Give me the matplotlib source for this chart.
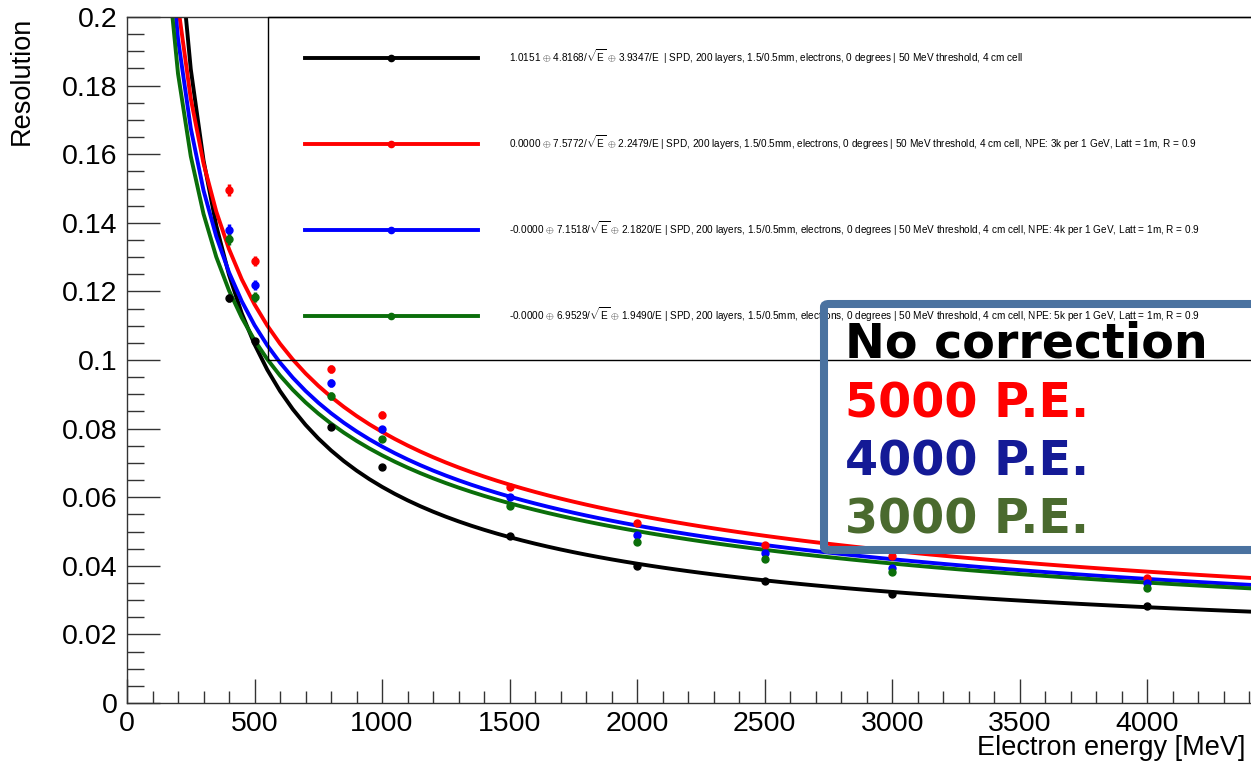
import numpy as np
import matplotlib
matplotlib.use("Agg")
import matplotlib.pyplot as plt
from matplotlib.lines import Line2D
from matplotlib.patches import FancyBboxPatch, Rectangle

# ---------------- data ----------------
energies = [400, 500, 800, 1000, 1500, 2000, 2500, 3000, 4000]  # MeV

res_nocorr = [0.1181, 0.1055, 0.0805, 0.0688, 0.0487, 0.0399, 0.0355, 0.0318, 0.0284]
res_red    = [0.1496, 0.1289, 0.0974, 0.0840, 0.0630, 0.0525, 0.0462, 0.0428, 0.0364]
res_blue   = [0.1379, 0.1219, 0.0933, 0.0799, 0.0600, 0.0490, 0.0436, 0.0395, 0.0350]
res_green  = [0.1353, 0.1184, 0.0895, 0.0770, 0.0575, 0.0468, 0.0420, 0.0382, 0.0336]

err_nocorr = [0.0012, 0.0010, 0.0008, 0.0007, 0.0005, 0.0004, 0.0004, 0.0004, 0.0003]
err_red    = [0.0018, 0.0015, 0.0012, 0.0010, 0.0008, 0.0007, 0.0006, 0.0006, 0.0005]
err_blue   = [0.0017, 0.0014, 0.0011, 0.0009, 0.0008, 0.0007, 0.0006, 0.0006, 0.0005]
err_green  = [0.0017, 0.0014, 0.0011, 0.0009, 0.0008, 0.0007, 0.0006, 0.0006, 0.0005]

# fit parameters (percent, E in GeV): a (+) b/sqrt(E) (+) c/E
fit_const = [1.0151, 0.0000, -0.0000, -0.0000]
fit_stoch = [4.8168, 7.5772, 7.1518, 6.9529]
fit_noise = [3.9347, 2.2479, 2.1820, 1.9490]

legend_labels = [
    r"1.0151 $\oplus$ 4.8168/$\sqrt{E}$ $\oplus$ 3.9347/E  | SPD, 200 layers, 1.5/0.5mm, electrons, 0 degrees | 50 MeV threshold, 4 cm cell",
    r"0.0000 $\oplus$ 7.5772/$\sqrt{E}$ $\oplus$ 2.2479/E | SPD, 200 layers, 1.5/0.5mm, electrons, 0 degrees | 50 MeV threshold, 4 cm cell, NPE: 3k per 1 GeV, Latt = 1m, R = 0.9",
    r"-0.0000 $\oplus$ 7.1518/$\sqrt{E}$ $\oplus$ 2.1820/E | SPD, 200 layers, 1.5/0.5mm, electrons, 0 degrees | 50 MeV threshold, 4 cm cell, NPE: 4k per 1 GeV, Latt = 1m, R = 0.9",
    r"-0.0000 $\oplus$ 6.9529/$\sqrt{E}$ $\oplus$ 1.9490/E | SPD, 200 layers, 1.5/0.5mm, electrons, 0 degrees | 50 MeV threshold, 4 cm cell, NPE: 5k per 1 GeV, Latt = 1m, R = 0.9",
]
overlay_labels = ["No correction", "5000 P.E.", "4000 P.E.", "3000 P.E."]

# ---------------- style ----------------
plt.rcParams['font.family'] = ['Liberation Sans', 'DejaVu Sans']
plt.rcParams['mathtext.fontset'] = 'custom'
plt.rcParams['mathtext.rm'] = 'Liberation Sans'
plt.rcParams['mathtext.it'] = 'Liberation Sans'

colors = ['#000000', '#ff0000', '#0000ff', '#0a6e0a']
overlay_colors = ['#000000', '#ff0000', '#141a96', '#4a6a2e']

W, H = 1251, 767
fig = plt.figure(figsize=(W / 100, H / 100), dpi=100)

x0_px, x_end_px = 127, 1262
y_top_px, y_bot_px = 17, 703
ax = fig.add_axes([x0_px / W, (H - y_bot_px) / H, (x_end_px - x0_px) / W, (y_bot_px - y_top_px) / H])
ax.set_xlim(0, 4450)
ax.set_ylim(0, 0.2)


def px2ax(px, py):
    return ax.transAxes.inverted().transform(fig.transFigure.transform((px / W, 1 - py / H)))


series = [res_nocorr, res_red, res_blue, res_green]
errors = [err_nocorr, err_red, err_blue, err_green]

E_fit = np.arange(100, 5001, 50) / 1000.0  # GeV
for a, b, c, col in zip(fit_const, fit_stoch, fit_noise, colors):
    curve = np.sqrt(a ** 2 + b ** 2 / E_fit + c ** 2 / E_fit ** 2) / 100.0
    ax.plot(E_fit * 1000, curve, color=col, lw=2.8, zorder=2, solid_joinstyle='round')

for s, e, col in zip(series, errors, colors):
    ax.errorbar(energies, s, yerr=e, fmt='o', color=col, ms=5, elinewidth=2.5,
                capsize=0, zorder=3)

# axes styling (ROOT-like)
for sp in ['left', 'bottom', 'top']:
    ax.spines[sp].set_color('#333333')
    ax.spines[sp].set_linewidth(1.0)
ax.spines['right'].set_visible(False)

ax.set_xticks(np.arange(0, 4451, 500))
ax.set_xticks(np.arange(0, 4451, 100), minor=True)
ax.set_yticks(np.arange(0, 0.2001, 0.02))
ax.set_yticks(np.arange(0, 0.2001, 0.005), minor=True)
ax.yaxis.set_major_formatter(matplotlib.ticker.FuncFormatter(
    lambda v, p: f"{v:.2f}".rstrip('0').rstrip('.') if abs(v) > 1e-9 else "0"))
ax.xaxis.set_major_formatter(matplotlib.ticker.FuncFormatter(lambda v, p: f"{int(round(v))}"))

ax.tick_params(axis='y', which='major', direction='in', length=24, width=1, color='#333333',
               labelsize=20.5, pad=7)
ax.tick_params(axis='y', which='minor', direction='in', length=12, width=1, color='#333333')
ax.tick_params(axis='x', which='major', direction='in', length=17, width=1, color='#333333',
               labelsize=20.5, pad=6)
ax.tick_params(axis='x', which='minor', direction='in', length=8.5, width=1, color='#333333')

fig.text(22 / W, 1 - 17 / H, "Resolution", rotation=90, ha='center', va='top', fontsize=19.5)
fig.text(1245 / W, 1 - 748 / H, "Electron energy [MeV]", ha='right', va='center', fontsize=19.5)

# legend frame (drawn as rectangle) + legend entries
fr0 = px2ax(268, 360)
fr1 = px2ax(1300, 17)
ax.add_patch(Rectangle((fr0[0], fr0[1]), fr1[0] - fr0[0], fr1[1] - fr0[1], transform=ax.transAxes,
                       facecolor='none', edgecolor='black', lw=1.0, zorder=4, clip_on=False))

handles = [Line2D([], [], color=c, lw=2.8, marker='o', ms=4.5) for c in colors]
anchor = px2ax(305, 47)
leg = ax.legend(handles, legend_labels, loc='upper left', bbox_to_anchor=(anchor[0], anchor[1]),
                borderaxespad=0, borderpad=0.0, labelspacing=6.75, handlelength=17.3,
                handletextpad=3.1, fontsize=7.2, numpoints=1, frameon=False)
leg.set_zorder(4)

# overlay annotation box
box = FancyBboxPatch((824 / W, 1 - 550 / H), (1300 - 824) / W, (550 - 304) / H,
                     boxstyle="round,pad=0,rounding_size=0.004", transform=fig.transFigure,
                     facecolor='none', edgecolor='#4a72a0', linewidth=5.8, zorder=10)
fig.patches.append(box)
baselines = [358, 417, 476, 533]
for txt, col, yb in zip(overlay_labels, overlay_colors, baselines):
    fig.text(845 / W, 1 - yb / H, txt, color=col, fontsize=34.3, fontweight='bold',
             family='DejaVu Sans', ha='left', va='baseline', zorder=11)

fig.savefig("out.png", dpi=100)
